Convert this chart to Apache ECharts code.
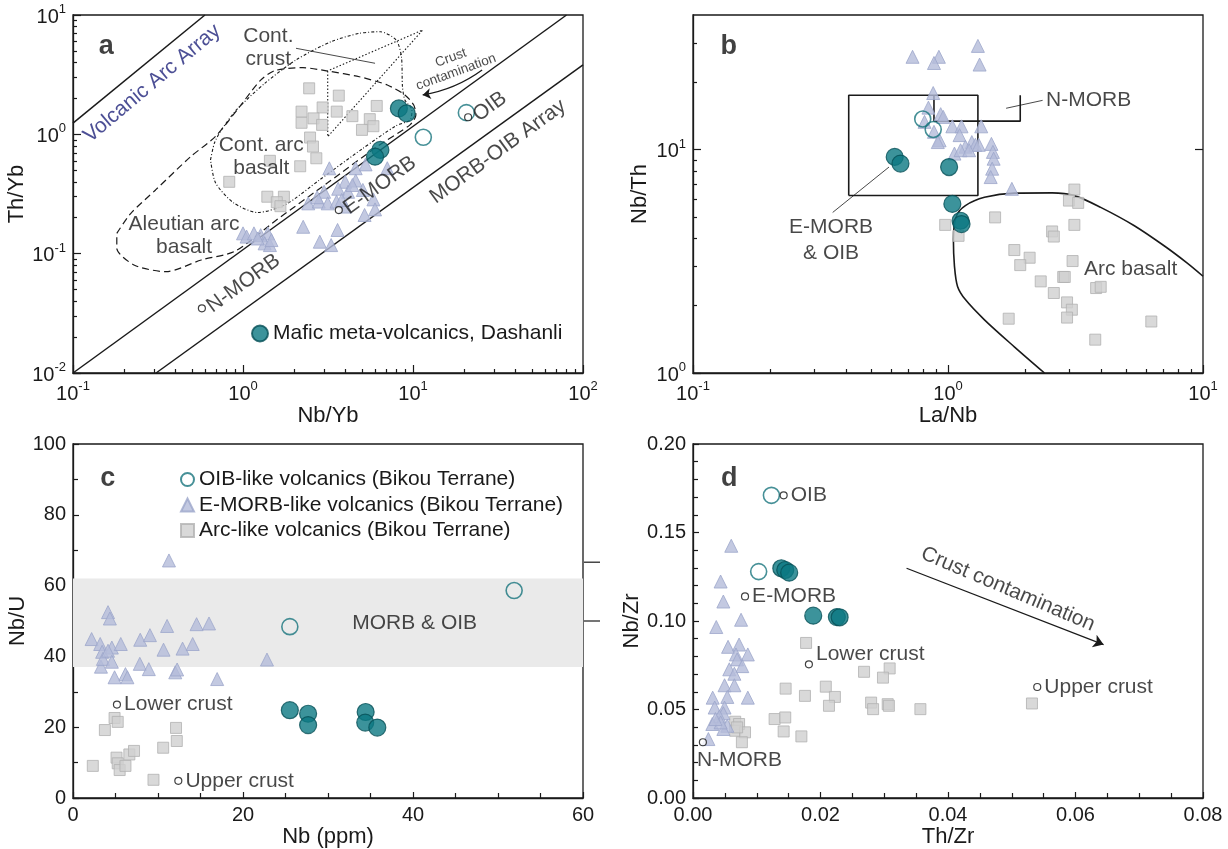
<!DOCTYPE html>
<html>
<head>
<meta charset="utf-8">
<script src="https://cdn.jsdelivr.net/npm/echarts@6/dist/echarts.min.js"></script>
<style>
  html, body { margin: 0; padding: 0; background: #fff; }
  #chart { width: 1228px; height: 849px; }
</style>
</head>
<body>
<div id="chart"></div>
<script>
// ---- panel a: Nb/Yb vs Th/Yb ----
const aArcLike = [[2.45,2.43],[3.66,2.11],[6.12,1.73],[2.21,1.55],[2.94,1.68],[3.56,1.55],[2.60,1.36],[4.40,1.42],[2.21,1.25],[2.92,1.20],[5.57,1.34],[5.85,1.17],[5.01,1.09],[2.48,0.94],[2.58,0.79],[2.70,0.63],[2.17,0.54],[1.44,0.60],[0.83,0.40],[1.39,0.30],[1.74,0.30],[1.58,0.27],[1.66,0.25]];
const aEmorbLike = [[3.22,0.519],[4.60,0.52],[5.26,0.56],[7.06,0.52],[3.99,0.40],[4.60,0.41],[3.00,0.33],[3.63,0.35],[4.15,0.33],[4.40,0.376],[2.42,0.264],[2.79,0.273],[3.15,0.264],[3.55,0.273],[3.99,0.248],[5.07,0.342],[5.85,0.285],[5.19,0.211],[5.98,0.235],[2.26,0.168],[3.60,0.158],[2.83,0.126],[3.30,0.118],[1.00,0.148],[1.05,0.139],[1.16,0.148],[1.27,0.143],[1.40,0.148],[1.34,0.122],[1.44,0.118],[1.47,0.130],[1.22,0.134],[3.81,0.282],[2.73,0.297]];
const aOibLike = [[11.5,0.944],[20.6,1.52]];
const aDashanli = [[8.26,1.65],[9.18,1.50],[6.43,0.74],[5.98,0.65]];
const aRefs = [[0.573,0.0348,'N-MORB'],[3.66,0.232,'E-MORB'],[21.1,1.39,'OIB']];
const aVolcArcLine = [[0.1,1.24],[0.597,10]];
const aMorbUpper = [[0.1,0.01],[80,10]];
const aMorbLower = [[0.308,0.01],[100,3.82]];
const aAleutian = [[0.181,0.148],[0.219,0.218],[0.306,0.342],[0.492,0.65],[0.687,0.956],[0.957,1.71],[1.27,2.85],[1.54,3.42],[2.25,3.62],[3.15,3.39],[4.83,3.04],[7.06,2.59],[8.96,2.14],[10.1,1.76],[10.4,1.45],[9.6,1.2],[6.31,0.81],[3.16,0.394],[1.585,0.193],[0.9,0.105],[0.568,0.0885],[0.353,0.0706],[0.23,0.08],[0.181,0.111],[0.181,0.148]];
const aContArc = [[0.644,0.612],[0.68,0.85],[0.75,1.1],[0.914,1.60],[1.34,2.67],[2.05,4.20],[3.30,5.98],[4.83,7.02],[6.43,7.24],[7.96,6.18],[8.55,4.48],[8.67,2.51],[8.96,1.94],[9.86,1.60],[9.62,1.32],[7.94,1.18],[5.01,0.753],[2.82,0.415],[1.78,0.258],[1.22,0.221],[0.879,0.267],[0.689,0.393],[0.644,0.612]];
const aCrustTri = [[3.15,3.40],[3.15,0.956],[11.4,7.48],[3.15,3.40]];
const aCrustLeader = [[2.05,5.26],[5.98,3.94]];
const aArrow = [[25.5,3.46],[11.4,2.14]];
const aXTicks = [0.1, 1, 10, 100];
const aYTicks = [0.01, 0.1, 1, 10];

// ---- panel b: La/Nb vs Nb/Th ----
const bArcLike = [[3.13,6.62],[2.98,5.91],[3.24,5.77],[1.53,4.97],[0.975,4.60],[1.10,4.11],[3.13,4.60],[2.56,4.30],[2.60,4.08],[1.82,3.55],[2.09,3.28],[1.92,3.04],[3.08,3.17],[2.31,2.57],[2.83,2.69],[2.87,2.69],[3.81,2.40],[3.97,2.43],[2.60,2.28],[2.93,2.07],[3.06,1.92],[2.93,1.77],[1.73,1.75],[6.27,1.70],[3.78,1.41]];
const bEmorbLike = [[0.726,26.0],[0.921,26.0],[0.881,24.4],[1.31,29.1],[1.33,24.0],[0.875,17.9],[0.838,15.4],[0.936,14.4],[0.809,13.3],[1.04,12.7],[1.13,12.7],[1.35,12.7],[1.11,11.6],[0.881,12.0],[0.927,11.0],[0.912,10.8],[1.24,10.8],[1.17,10.3],[1.28,10.5],[1.32,10.5],[1.48,10.6],[1.50,9.76],[1.51,9.10],[1.49,8.21],[1.47,7.53],[1.06,9.59],[1.12,9.93],[1.78,6.67],[1.21,9.93],[0.958,14.0]];
const bOibLike = [[0.796,13.7],[0.875,12.3]];
const bDashanli = [[0.618,9.27],[0.651,8.65],[1.01,8.35],[1.04,5.71],[1.12,4.80],[1.13,4.64]];
const bEmorbBox = [[0.408,6.23],[0.408,17.5],[1.31,17.5],[1.31,6.23],[0.408,6.23]];
const bNmorbBox = [[0.881,17.5],[0.881,13.4],[1.92,13.4],[1.92,17.5]];
const bArcField = [[2.39,1.0],[1.82,1.31],[1.39,1.73],[1.17,2.13],[1.09,2.44],[1.06,3.01],[1.05,3.97],[1.08,5.05],[1.17,5.61],[1.39,6.11],[1.82,6.38],[2.56,6.40],[3.13,6.22],[3.97,5.51],[5.38,4.56],[7.06,3.70],[8.65,3.11],[10,2.71]];
const bNmorbLeader = [[1.69,15.3],[2.35,16.6]];
const bEmorbLeader = [[0.587,8.35],[0.353,5.23]];
const bXTicks = [0.1, 1, 10];
const bYTicks = [1, 10];

// ---- panel c: Nb (ppm) vs Nb/U ----
const cArcLike = [[4.89,22.6],[5.26,21.5],[3.75,19.2],[2.33,9.07],[5.12,11.4],[5.26,9.8],[5.49,7.9],[6.17,9.07],[6.63,12.3],[7.18,13.3],[10.61,14.2],[12.12,19.8],[12.21,16.1],[9.47,5.14]];
const cEmorbLike = [[2.19,44.9],[4.12,52.5],[4.34,50.7],[3.20,43.5],[3.43,41.3],[3.29,37.1],[3.52,39.3],[4.57,42.5],[4.12,41.6],[4.57,38.5],[4.89,34.1],[5.62,43.5],[6.17,35.0],[6.40,34.1],[7.91,44.7],[7.86,37.9],[8.92,36.4],[9.05,46.0],[10.65,41.9],[11.07,48.6],[11.29,67.1],[12.03,35.5],[12.25,36.3],[12.89,42.2],[14.08,43.5],[14.54,49.1],[16.00,49.3],[16.96,33.6],[22.82,39.1]];
const cOibLike = [[25.51,48.4],[51.9,58.6]];
const cDashanli = [[25.51,24.8],[27.66,23.8],[27.66,20.6],[34.43,24.3],[34.38,21.3],[35.80,19.9]];
const cRefs = [[5.17,26.4,'Lower crust'],[12.39,4.86,'Upper crust']];
const cBand = [37, 62];
const cSideMarks = [66.6, 50];

// ---- panel d: Th/Zr vs Nb/Zr ----
const dArcLike = [[0.01774,0.0876],[0.02683,0.0713],[0.03085,0.0732],[0.0298,0.0680],[0.01453,0.0618],[0.01756,0.0577],[0.02083,0.0629],[0.02226,0.0571],[0.02133,0.0521],[0.02794,0.0539],[0.02825,0.0502],[0.03054,0.0530],[0.03073,0.0521],[0.03567,0.0502],[0.05317,0.0534],[0.0128,0.0446],[0.01447,0.0455],[0.01422,0.0376],[0.017,0.0348],[0.00662,0.0431],[0.00723,0.0418],[0.00662,0.0380],[0.00816,0.0371],[0.00767,0.0315],[0.00692,0.0399]];
const dEmorbLike = [[0.0060,0.1425],[0.00433,0.1223],[0.00476,0.1110],[0.00365,0.0966],[0.00754,0.1007],[0.0055,0.0854],[0.00723,0.0867],[0.0086,0.0811],[0.00674,0.0811],[0.00692,0.0783],[0.00773,0.0745],[0.00569,0.0727],[0.00649,0.0702],[0.00495,0.0637],[0.00649,0.0637],[0.00538,0.0571],[0.0086,0.0567],[0.00309,0.0567],[0.0034,0.0511],[0.00495,0.0511],[0.00476,0.0479],[0.00414,0.0461],[0.00303,0.0418],[0.00538,0.0408],[0.00476,0.0390],[0.00433,0.0427],[0.00241,0.0333],[0.00352,0.0446]];
const dOibLike = [[0.0123,0.171],[0.0103,0.1279]];
const dDashanli = [[0.01385,0.1298],[0.01447,0.1288],[0.01509,0.1273],[0.01886,0.1030],[0.02257,0.1022],[0.0230,0.1021]];
const dRefs = [[0.01422,0.171,'OIB'],[0.00816,0.1139,'E-MORB'],[0.01818,0.0755,'Lower crust'],[0.0540,0.0627,'Upper crust'],[0.00155,0.0315,'N-MORB']];
const dArrow = [[0.0335,0.1298],[0.0644,0.0867]];

// annotation anchors (data coords)
const aNotes = [[1.41,5.35,'Cont.\ncrust'],[1.28,0.644,'Cont. arc\nbasalt'],[0.45,0.1416,'Aleutian arc\nbasalt']];
const bNotes = [[0.348,3.94,'E-MORB\n& OIB'],[5.2,2.9,'Arc basalt']];
const cNotes = [[40.2,49.5,'MORB & OIB']];

const FONT = '"Liberation Sans", Arial, Helvetica, sans-serif';
const INK = '#1a1a1a';
const N_OIB = 'OIB-like volcanics (Bikou Terrane)';
const N_EM = 'E-MORB-like volcanics (Bikou Terrane)';
const N_ARC = 'Arc-like volcanics (Bikou Terrane)';
const N_DS = 'Mafic meta-volcanics, Dashanli';

function minorTicks(lo, hi) {
  const out = [];
  for (let e = Math.floor(Math.log10(lo)); Math.pow(10, e) < hi; e++) {
    for (let m = 2; m <= 9; m++) {
      const v = +(m * Math.pow(10, e)).toPrecision(3);
      if (v > lo && v < hi) out.push(v);
    }
  }
  return out;
}

const RICH = {
  b: { fontSize: 20, color: INK, fontFamily: FONT, lineHeight: 24, verticalAlign: 'bottom' },
  s: { fontSize: 13, color: INK, fontFamily: FONT, lineHeight: 24, verticalAlign: 'top' }
};
function powLabel(v) {
  const e = Math.round(Math.log10(v));
  if (Math.abs(Math.log10(v) - e) > 1e-6) return '';
  return '{b|10}{s|' + e + '}';
}

const tickLine = { color: INK, width: 1.2 };
const nameStyle = { fontSize: 22, color: INK, fontFamily: FONT };

function logAxis(grid, min, max, pos, ticks, name, gap) {
  return {
    type: 'log', logBase: 10, gridIndex: grid, min: min, max: max, position: pos,
    name: name, nameLocation: 'middle', nameGap: gap, nameTextStyle: nameStyle,
    axisLine: { show: true, lineStyle: { color: INK, width: 1.3 } },
    axisTick: { show: true, inside: true, length: 8, customValues: ticks, lineStyle: tickLine },
    axisLabel: { customValues: ticks, formatter: powLabel, rich: RICH, margin: 7 },
    splitLine: { show: false }
  };
}
function logMinor(grid, min, max, pos) {
  return {
    type: 'log', logBase: 10, gridIndex: grid, min: min, max: max, position: pos,
    axisLine: { show: false },
    axisTick: { show: true, inside: true, length: 4, customValues: minorTicks(min, max), lineStyle: tickLine },
    axisLabel: { show: false }, splitLine: { show: false }
  };
}
function valAxis(grid, min, max, interval, split, pos, name, gap, digits) {
  return {
    type: 'value', gridIndex: grid, min: min, max: max, interval: interval, position: pos,
    name: name, nameLocation: 'middle', nameGap: gap, nameTextStyle: nameStyle,
    axisLine: { show: true, lineStyle: { color: INK, width: 1.3 } },
    axisTick: { show: true, inside: true, length: 6, lineStyle: tickLine },
    minorTick: { show: true, splitNumber: split, length: 5, lineStyle: tickLine },
    axisLabel: { fontSize: 20, color: INK, fontFamily: FONT, margin: 7,
      formatter: v => digits ? v.toFixed(digits) : String(v) },
    splitLine: { show: false }, minorSplitLine: { show: false }
  };
}

const STYLE = {
  arc: { name: N_ARC, symbol: 'rect', symbolSize: 11, z: 3, itemStyle: { color: '#cfcfcf', borderColor: '#b2b2b2', borderWidth: 1 } },
  em: { name: N_EM, symbol: 'triangle', symbolSize: 13, z: 3, itemStyle: { color: '#b4bcda', borderColor: '#9ca6cb', borderWidth: 1 } },
  oib: { name: N_OIB, symbol: 'circle', symbolSize: 16, z: 4, itemStyle: { color: 'rgba(255,255,255,0)', borderColor: '#18747d', borderWidth: 1.6 } },
  ds: { name: N_DS, symbol: 'circle', symbolSize: 17, z: 4, itemStyle: { color: '#0b7882', borderColor: '#075058', borderWidth: 1.2 } }
};
function pts(kind, xi, yi, data) {
  return Object.assign({ type: 'scatter', xAxisIndex: xi, yAxisIndex: yi, data: data, silent: true }, STYLE[kind]);
}
function path(xi, yi, data, style, smooth) {
  return {
    type: 'line', xAxisIndex: xi, yAxisIndex: yi, data: data, showSymbol: false, symbol: 'none',
    smooth: smooth || false, silent: true, z: 2,
    lineStyle: Object.assign({ color: INK, width: 1.4 }, style)
  };
}
function notes(xi, yi, items, label) {
  return {
    type: 'scatter', xAxisIndex: xi, yAxisIndex: yi, symbolSize: 0, silent: true, z: 6,
    data: items.map(t => ({ value: [t[0], t[1]], label: { formatter: t[2] } })),
    label: Object.assign({ show: true, position: 'inside', color: INK, fontSize: 21,
      fontFamily: FONT, lineHeight: 23, align: 'center' }, label)
  };
}
function refs(xi, yi, items, label, extra) {
  return {
    type: 'scatter', xAxisIndex: xi, yAxisIndex: yi, symbol: 'circle', symbolSize: 7, silent: true, z: 7,
    itemStyle: { color: '#fff', borderColor: '#111', borderWidth: 1.2 },
    data: items.map((t, i) => ({ value: [t[0], t[1]],
      label: Object.assign({ formatter: t[2] }, (extra && extra[i]) || {}) })),
    label: Object.assign({ show: true, position: 'right', distance: 3, color: INK,
      fontSize: 21, fontFamily: FONT }, label)
  };
}
function arrow(xi, yi, coords, curve, size) {
  return {
    type: 'lines', coordinateSystem: 'cartesian2d', xAxisIndex: xi, yAxisIndex: yi,
    symbol: ['none', 'arrow'], symbolSize: size, silent: true, z: 5,
    lineStyle: { color: INK, width: 1.3, curveness: curve, opacity: 1 },
    data: [{ coords: coords }]
  };
}
const panelLetter = { fontSize: 27, fontWeight: 'bold', color: '#111' };

const grid = [
  { left: 73, top: 15, width: 510, height: 358 },
  { left: 693, top: 15, width: 510, height: 358 },
  { left: 73, top: 444, width: 510, height: 356 },
  { left: 693, top: 444, width: 510, height: 356 }
].map(g => Object.assign({ show: true, borderColor: INK, borderWidth: 1.3 }, g));

const xAxis = [
  logAxis(0, 0.1, 100, 'bottom', aXTicks, 'Nb/Yb', 23),
  logMinor(0, 0.1, 100, 'bottom'),
  logAxis(1, 0.1, 10, 'bottom', bXTicks, 'La/Nb', 23),
  logMinor(1, 0.1, 10, 'bottom'),
  valAxis(2, 0, 60, 20, 4, 'bottom', 'Nb (ppm)', 28, 0),
  valAxis(3, 0, 0.08, 0.02, 4, 'bottom', 'Th/Zr', 28, 2)
];
const bRight = logAxis(1, 1, 40, 'right', [10], '', 0);
bRight.axisLabel = { show: false };
bRight.axisLine = { show: false };
const yAxis = [
  logAxis(0, 0.01, 10, 'left', aYTicks, 'Th/Yb', 44),
  logMinor(0, 0.01, 10, 'left'),
  logAxis(1, 1, 40, 'left', bYTicks, 'Nb/Th', 42),
  logMinor(1, 1, 40, 'left'),
  bRight,
  valAxis(2, 0, 100, 20, 2, 'left', 'Nb/U', 44, 0),
  valAxis(3, 0, 0.2, 0.05, 5, 'left', 'Nb/Zr', 42, 2)
];

const series = [
  // ---- a ----
  path(0, 0, aVolcArcLine, { width: 1.5 }),
  path(0, 0, aMorbUpper, { width: 1.5 }),
  path(0, 0, aMorbLower, { width: 1.5 }),
  path(0, 0, aAleutian, { width: 1.2, type: [7, 4] }, 0.25),
  path(0, 0, aContArc, { width: 1.1, type: [3, 2, 1, 2] }, 0.25),
  path(0, 0, aCrustTri, { width: 1.1, type: [1.5, 2] }),
  path(0, 0, aCrustLeader, { width: 0.8 }),
  arrow(0, 0, aArrow, 0.12, 8),
  pts('arc', 0, 0, aArcLike),
  pts('em', 0, 0, aEmorbLike),
  pts('oib', 0, 0, aOibLike),
  pts('ds', 0, 0, aDashanli),
  refs(0, 0, aRefs, { rotate: 36 }),
  notes(0, 0, aNotes, {}),
  notes(0, 0, [[0.292, 2.67, 'Volcanic Arc Array']], { rotate: 40, color: '#1f237a' }),
  notes(0, 0, [[31.6, 0.716, 'MORB-OIB Array']], { rotate: 36 }),
  notes(0, 0, [[17.3, 3.81, 'Crust\ncontamination']], { rotate: 20, fontSize: 13.5, lineHeight: 15 }),
  notes(0, 0, [[0.157, 5.43, 'a']], panelLetter),
  // ---- b ----
  path(2, 2, bEmorbBox, { width: 1.6 }),
  path(2, 2, bNmorbBox, { width: 1.6 }),
  path(2, 2, bArcField, { width: 1.6 }, 0.3),
  path(2, 2, bNmorbLeader, { width: 0.8 }),
  path(2, 2, bEmorbLeader, { width: 0.8 }),
  pts('arc', 2, 2, bArcLike),
  pts('em', 2, 2, bEmorbLike),
  pts('oib', 2, 2, bOibLike),
  pts('ds', 2, 2, bDashanli),
  notes(2, 2, bNotes, { lineHeight: 26 }),
  notes(2, 2, [[2.38, 16.6, 'N-MORB']], { position: 'right', distance: 2, align: 'left' }),
  notes(2, 2, [[0.138, 29.0, 'b']], panelLetter),
  // ---- c ----
  Object.assign(pts('arc', 4, 5, cArcLike), {
    markArea: { silent: true, z: 1, itemStyle: { color: '#eaeaea' },
      data: [[{ yAxis: cBand[0] }, { yAxis: cBand[1] }]] }
  }),
  pts('em', 4, 5, cEmorbLike),
  pts('oib', 4, 5, cOibLike),
  pts('ds', 4, 5, cDashanli),
  refs(4, 5, cRefs, {}),
  notes(4, 5, cNotes, {}),
  notes(4, 5, [[4.1, 90.2, 'c']], panelLetter),
  {
    type: 'scatter', xAxisIndex: 4, yAxisIndex: 5, silent: true, clip: false,
    symbol: 'rect', symbolSize: [16, 1.5], symbolOffset: [9, 0],
    itemStyle: { color: INK }, data: cSideMarks.map(v => [60, v])
  },
  // ---- d ----
  arrow(5, 6, dArrow, 0, 10),
  pts('arc', 5, 6, dArcLike),
  pts('em', 5, 6, dEmorbLike),
  pts('oib', 5, 6, dOibLike),
  pts('ds', 5, 6, dDashanli),
  refs(5, 6, dRefs, {}, [null, null, { offset: [0, -10] }, null,
    { position: 'bottom', align: 'left', offset: [-6, 0] }]),
  notes(5, 6, [[0.0494, 0.118, 'Crust contamination']], { rotate: -23 }),
  notes(5, 6, [[0.0057, 0.1803, 'd']], panelLetter)
];

const legendText = { fontSize: 21, color: INK, fontFamily: FONT, lineHeight: 21 };
const option = {
  animation: false,
  backgroundColor: '#fff',
  textStyle: { fontFamily: FONT },
  grid: grid,
  xAxis: xAxis,
  yAxis: yAxis,
  legend: [
    { data: [N_DS], left: 246, top: 318, orient: 'vertical', itemWidth: 16, itemHeight: 16,
      itemGap: 6, itemTextGap: 8, selectedMode: false, textStyle: legendText },
    { data: [N_OIB, N_EM, N_ARC], left: 175, top: 464, orient: 'vertical', itemWidth: 13, itemHeight: 13,
      itemGap: 4.5, itemTextGap: 7, selectedMode: false, textStyle: legendText }
  ],
  series: series
};

const chart = echarts.init(document.getElementById('chart'));
chart.setOption(option);
</script>
</body>
</html>
